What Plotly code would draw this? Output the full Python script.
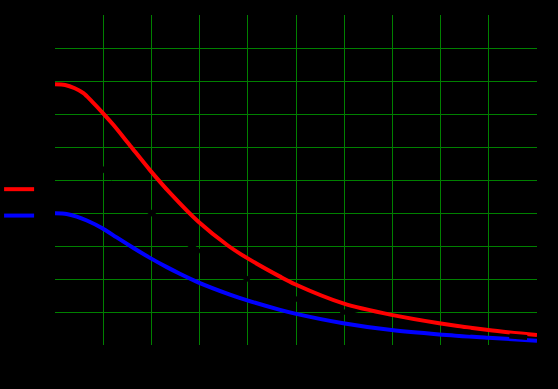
import plotly.graph_objects as go

# Series
x_red = [0, 0.21, 0.41, 0.59, 0.76, 0.98, 1.21, 1.56, 1.97, 2.39, 2.97, 3.60, 3.99, 4.67, 4.98, 5.98, 6.98, 7.97, 8.99, 10]
y_red = [1.975, 1.97, 1.945, 1.908, 1.848, 1.763, 1.668, 1.51, 1.325, 1.15, 0.935, 0.75, 0.658, 0.518, 0.46, 0.315, 0.228, 0.165, 0.113, 0.075]

x_blue = [0, 0.24, 0.45, 0.66, 0.98, 1.28, 1.62, 1.97, 2.32, 2.59, 2.97, 3.63, 3.99, 4.65, 4.98, 5.98, 6.98, 7.97, 8.99, 10]
y_blue = [0.998, 0.993, 0.973, 0.943, 0.885, 0.815, 0.737, 0.660, 0.590, 0.540, 0.475, 0.382, 0.338, 0.268, 0.238, 0.165, 0.113, 0.080, 0.055, 0.033]

x_black = [0, 0.5, 1, 1.5, 2, 2.5, 3, 3.5, 4, 5, 6, 7, 8, 9, 10]
y_black = [1.5, 1.46, 1.33, 1.155, 1.0, 0.845, 0.705, 0.6, 0.5, 0.35, 0.25, 0.17, 0.12, 0.083, 0.05]

x_ticks = [1, 2, 3, 4, 5, 6, 7, 8, 9]
y_ticks = [0.25, 0.5, 0.75, 1.0, 1.25, 1.5, 1.75, 2.0, 2.25]

black_dash = "0px,50px," + ",".join(["18px,39px"] * 9)

fig = go.Figure()
fig.add_trace(go.Scatter(x=x_red, y=y_red, mode="lines", name="a",
                         line=dict(color="red", width=4, shape="spline", smoothing=0.8)))
fig.add_trace(go.Scatter(x=x_blue, y=y_blue, mode="lines", name="b",
                         line=dict(color="blue", width=4, shape="spline", smoothing=0.8)))
fig.add_trace(go.Scatter(x=x_black, y=y_black, mode="lines", name="c",
                         line=dict(color="black", width=5, dash=black_dash,
                                   shape="spline")))

fig.update_layout(
    width=558, height=389,
    margin=dict(l=55, r=21, t=15, b=44, autoexpand=False),
    paper_bgcolor="black", plot_bgcolor="black",
    font=dict(color="black", family="DejaVu Sans", size=12),
    legend=dict(x=-0.116, xanchor="left", y=0.391, yanchor="middle",
                bgcolor="rgba(0,0,0,0)", font=dict(color="black", size=18)),
    showlegend=True,
)
fig.update_xaxes(range=[0, 10], tickvals=x_ticks, showgrid=True, gridcolor="green",
                 gridwidth=1, zeroline=False, showline=False, tickfont=dict(color="black"))
fig.update_yaxes(range=[0, 2.5], tickvals=y_ticks, showgrid=True, gridcolor="green",
                 gridwidth=1, zeroline=False, showline=False, tickfont=dict(color="black"))

fig.write_html("out.html", config={"displayModeBar": False},
               post_script="document.body.style.margin='0';")
